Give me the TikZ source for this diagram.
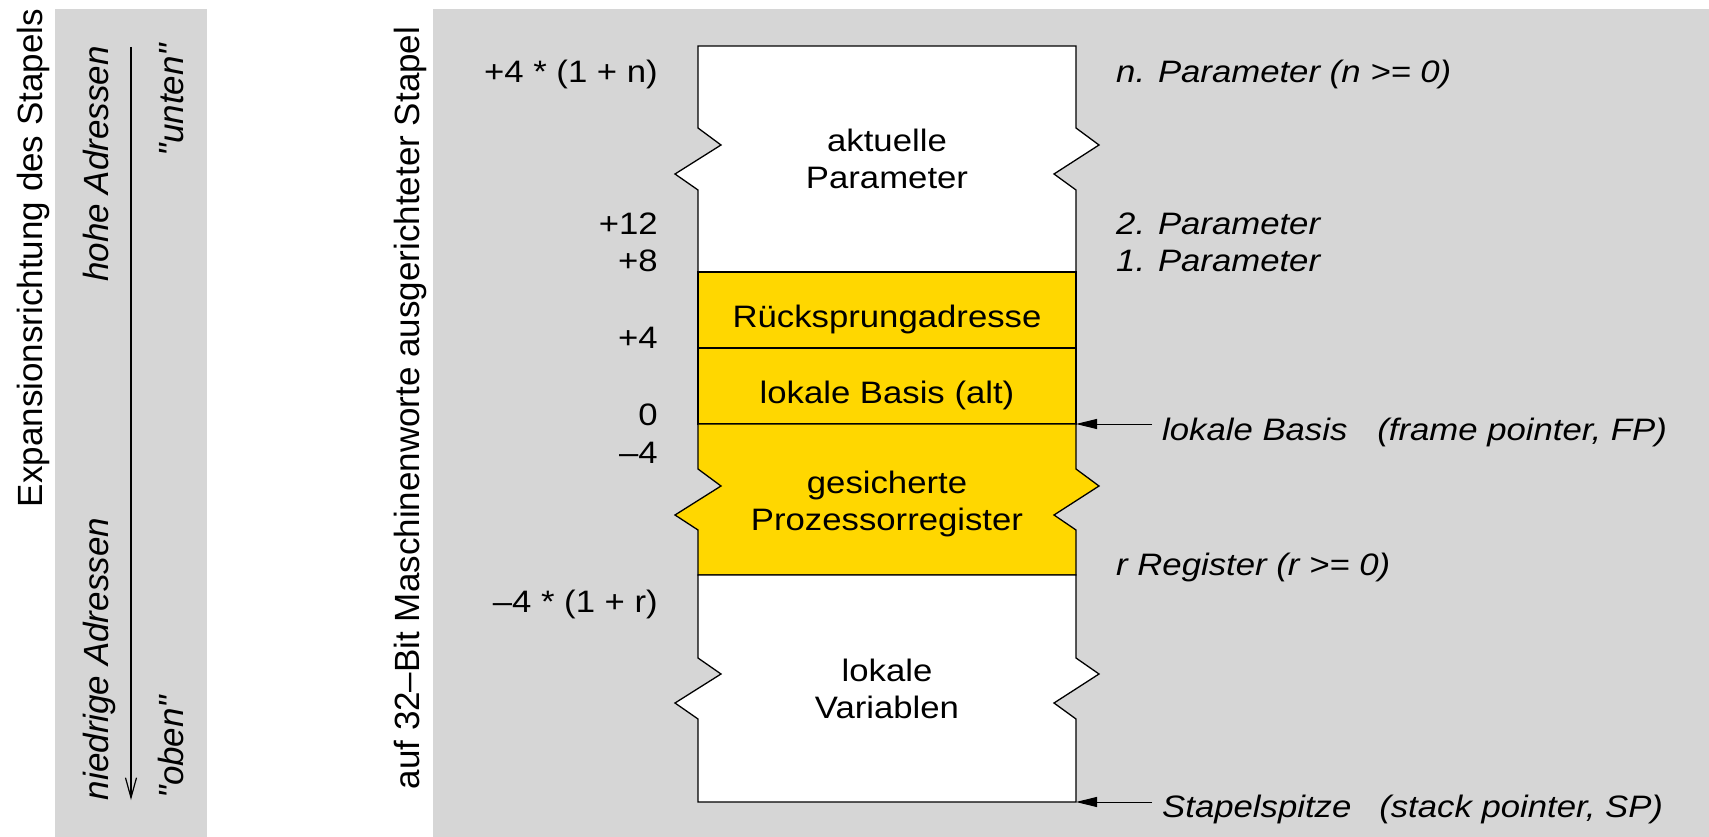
\documentclass[tikz,border=0pt]{standalone}
\usepackage{fontspec}
\setmainfont{Liberation Sans}[Ligatures=TeXOff]
\newfontfamily\stackfont{Liberation Sans}[FakeStretch=1.12]
\usetikzlibrary{arrows.meta}
\definecolor{panelgray}{RGB}{214,214,214}
\definecolor{framegold}{RGB}{255,215,0}
\tikzset{
  lbl/.style={font=\stackfont\fontsize{31}{37.7}\selectfont, inner sep=0pt},
  note/.style={font=\stackfont\itshape\fontsize{31}{37.7}\selectfont, inner sep=0pt},
  side/.style={rotate=90, anchor=base, inner sep=0pt, font=\fontsize{35}{42}\selectfont},
  sidenote/.style={side, font=\itshape\fontsize{35}{42}\selectfont},
  cell/.style={draw=black, line width=1.3pt},
  pointer/.style={-{Triangle[length=21pt,width=10pt]}, line width=1pt},
}
\begin{document}
\begin{tikzpicture}[x=1pt, y=-1pt]
      \useasboundingbox (0,0) rectangle (1709,837);
      \fill[panelgray] (55,9) rectangle (207,837);
      \fill[panelgray] (433,9) rectangle (1709,837);
      % left column
      \node[side] (expdir) at (42,258) {Expansionsrichtung des Stapels};
      \node[sidenote] (hiaddr) at (108,164) {hohe Adressen};
      \node[sidenote] (loaddr) at (108,659) {niedrige Adressen};
      \node[sidenote] (bottomq) at (183,100) {"unten"};
      \node[sidenote] (topq) at (183,747) {"oben"};
      \coordinate (exptop) at (131,47);
      \coordinate (expbot) at (131,800);
      \draw[line width=1.2pt, -{Straight Barb[length=20pt,width=11pt]}] (exptop) -- (expbot);
      \node[side] (wordnote) at (419,408) {auf 32–Bit Maschinenworte ausgerichteter Stapel};
      % stack frame
      \filldraw[cell, fill=white] (698,46) -- (1076,46) -- (1076,128) -- (1099,145)
        -- (1054,174) -- (1076,190) -- (1076,272) -- (698,272) -- (698,190)
        -- (675,174) -- (721,145) -- (698,128) -- cycle;
      \filldraw[cell, fill=framegold] (698,272) rectangle (1076,348);
      \filldraw[cell, fill=framegold] (698,348) rectangle (1076,424);
      \filldraw[cell, fill=framegold] (698,424) -- (1076,424) -- (1076,469) -- (1099,486)
        -- (1054,515) -- (1076,530) -- (1076,575) -- (698,575) -- (698,530)
        -- (675,515) -- (721,486) -- (698,469) -- cycle;
      \filldraw[cell, fill=white] (698,575) -- (1076,575) -- (1076,658) -- (1099,674)
        -- (1054,703) -- (1076,719) -- (1076,802) -- (698,802) -- (698,719)
        -- (675,703) -- (721,674) -- (698,658) -- cycle;
      \node[lbl, align=center] (aktpar) at (887,159) {aktuelle\\Parameter};
      \node[lbl, anchor=base] (ret) at (887,327) {Rücksprungadresse};
      \node[lbl, anchor=base] (oldfp) at (887,403) {lokale Basis (alt)};
      \node[lbl, align=center] (saveregs) at (887,504) {gesicherte\\Prozessorregister};
      \node[lbl, align=center] (locvars) at (887,689) {lokale\\Variablen};
      % offsets
      \node[lbl, anchor=base east] (offn) at (658,83) {+4 * (1 + n)};
      \node[lbl, anchor=base east] (off12) at (658,235) {+12};
      \node[lbl, anchor=base east] (off8) at (658,272) {+8};
      \node[lbl, anchor=base east] (off4) at (658,348) {+4};
      \node[lbl, anchor=base east] (off0) at (658,425) {0};
      \node[lbl, anchor=base east] (offm4) at (658,463) {–4};
      \node[lbl, anchor=base east] (offr) at (658,612) {–4 * (1 + r)};
      % notes
      \node[note, anchor=base west] (parn) at (1116,83) {n. Parameter (n >= 0)};
      \node[note, anchor=base west] (par2) at (1116,235) {2. Parameter};
      \node[note, anchor=base west] (par1) at (1116,272) {1. Parameter};
      \node[note, anchor=base west] (regr) at (1116,575) {r Register (r >= 0)};
      \node[note, anchor=base west, inner xsep=10pt] (fp) at (1152,440) {lokale Basis\hspace{30pt}(frame pointer, FP)};
      \node[note, anchor=base west, inner xsep=10pt] (sp) at (1152,817) {Stapelspitze\hspace{28pt}(stack pointer, SP)};
      \coordinate (fpedge) at (1076,424);
      \coordinate (spedge) at (1076,802);
      \draw[pointer] (fp.west |- fpedge) -- (fpedge);
      \draw[pointer] (sp.west |- spedge) -- (spedge);
    \end{tikzpicture}
\end{document}
